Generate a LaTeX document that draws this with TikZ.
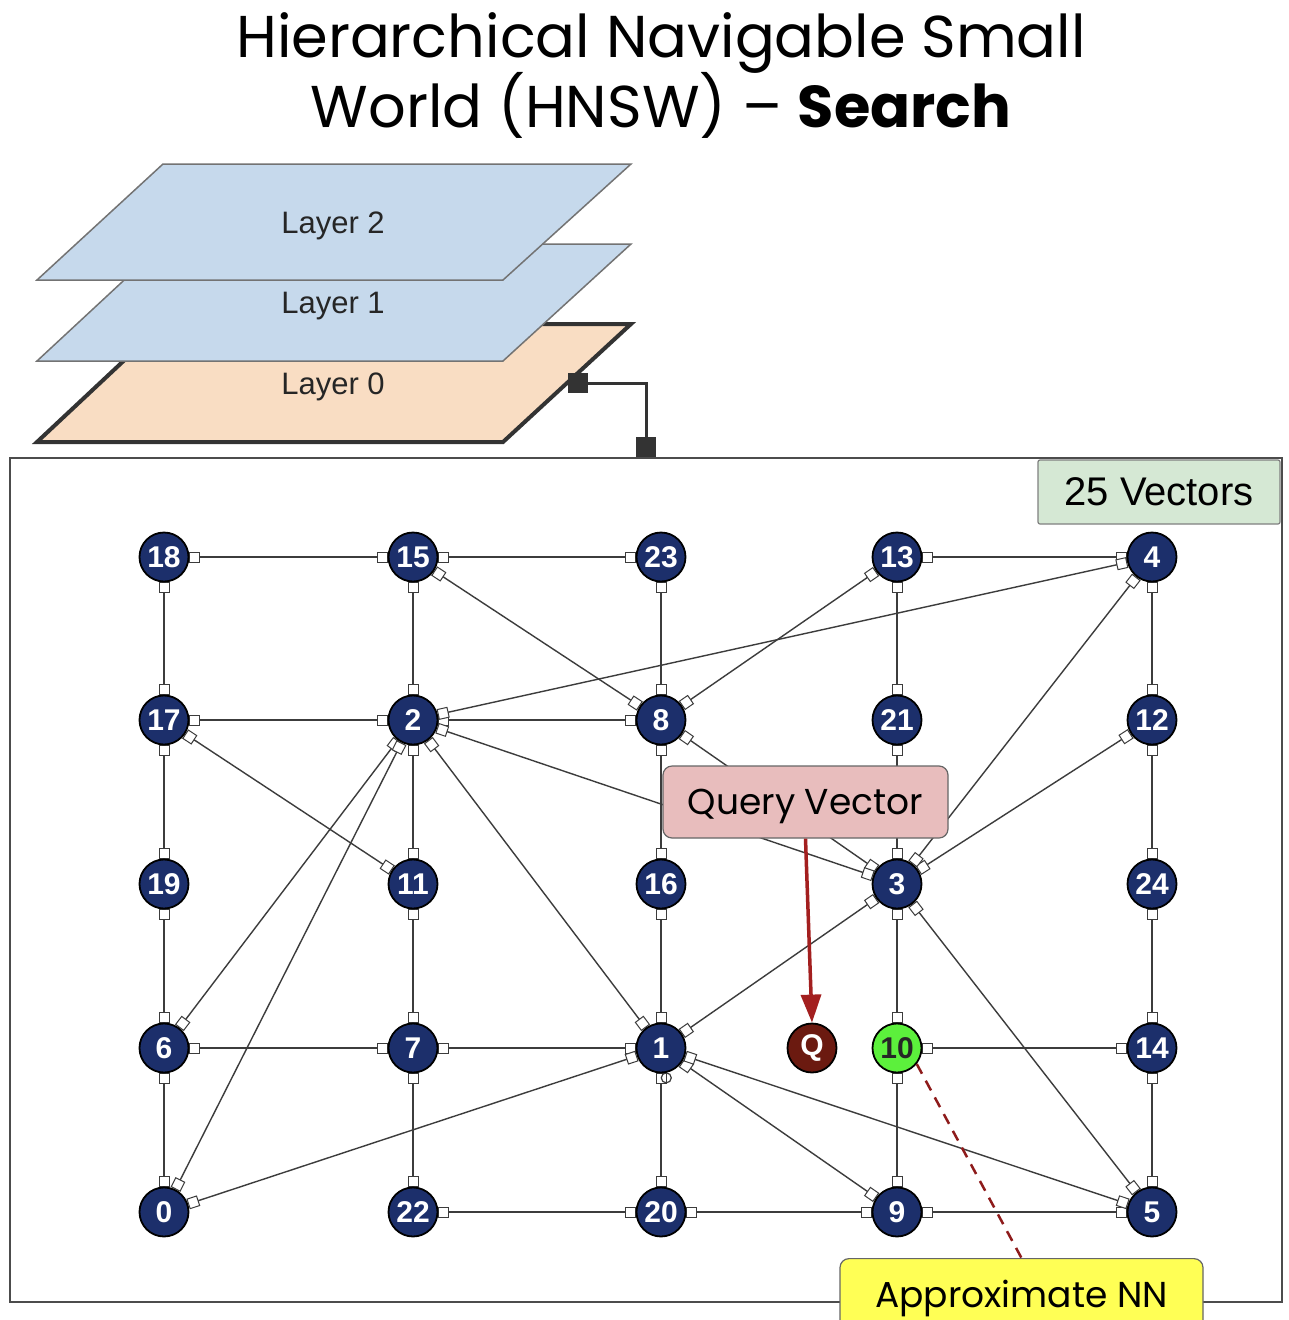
\documentclass[tikz,border=0pt]{standalone}
\usepackage{fontspec}
\setmainfont{Liberation Sans}
\newfontfamily\pop{Poppins}
\usetikzlibrary{arrows.meta}
\pgfdeclarelayer{bg}
\pgfdeclarelayer{edges}
\pgfsetlayers{bg,edges,main}
\definecolor{navy}{HTML}{1C2F6B}
\definecolor{layblue}{HTML}{C6D9EC}
\definecolor{laypeach}{HTML}{F9DDC3}
\definecolor{boxgreen}{HTML}{D5E8D4}
\definecolor{qpink}{HTML}{E8BDBD}
\definecolor{nnyellow}{HTML}{FFFF55}
\definecolor{qred}{HTML}{6B1A10}
\definecolor{nngreen}{HTML}{5CF03C}
\definecolor{arrred}{HTML}{A31F1F}
\definecolor{dashred}{HTML}{8E1B1B}
\definecolor{edgegray}{HTML}{3C3C3C}
\tikzset{
  sqm/.tip={Square[fill=white,length=11pt,width=11pt,line width=1pt]},
  vnode/.style={circle, draw=black, line width=1.8pt, fill=navy, minimum size=49pt,
    inner sep=0pt, text=white, font=\bfseries\fontsize{30}{30}\selectfont},
  gedge/.style={draw=edgegray, line width=1.4pt, arrows={sqm-sqm}},
  layerlbl/.style={font=\fontsize{31}{31}\selectfont, text=black!85},
  port/.style={fill=black!80, draw=none, minimum width=20pt, minimum height=20pt, inner sep=0pt},
}
\begin{document}
\begin{tikzpicture}[x=1pt,y=-1pt]
\useasboundingbox (0,0) rectangle (1288,1320);
\begin{pgfonlayer}{bg}
\fill[white] (0,0) rectangle (1288,1320);
\end{pgfonlayer}
% title
\node[anchor=base, font=\pop\fontsize{59}{59}\selectfont] (t1) at (661,57) {Hierarchical Navigable Small};
\node[anchor=base, font=\pop\fontsize{59}{59}\selectfont] (t2) at (661,127) {World (HNSW) – {\bfseries Search}};
% layers
\draw[fill=laypeach, draw=black!80, line width=4pt, line join=miter] (163,324) -- (631,324) -- (503,442) -- (37,442) -- cycle;
\draw[fill=layblue, draw=black!55, line width=1.5pt] (163,244) -- (631,244) -- (503,361) -- (37,361) -- cycle;
\draw[fill=layblue, draw=black!55, line width=1.5pt] (163,164) -- (631,164) -- (503,280) -- (37,280) -- cycle;
\node[layerlbl] (l2) at (333,226) {Layer 2};
\node[layerlbl] (l1) at (333,306) {Layer 1};
\node[layerlbl] (l0) at (333,387) {Layer 0};
% frame
\draw[draw=black!70, line width=2.5pt] (10,458) rectangle (1282,1302);
\node[port] (p1) at (578,383) {};
\node[port] (p2) at (646,447) {};
\draw[black!80, line width=3pt] (p1.center) -| (p2.center);
\node[draw=black!50, line width=1.2pt, fill=boxgreen, rounded corners=2pt, minimum width=242pt, minimum height=64pt,
  font=\fontsize{40}{40}\selectfont] (vec) at (1159,492) {25 Vectors};
% vector nodes
\node[vnode] (n18) at (164,557) {18};
\node[vnode] (n15) at (413,557) {15};
\node[vnode] (n23) at (661,557) {23};
\node[vnode] (n13) at (897,557) {13};
\node[vnode] (n4)  at (1152,557) {4};
\node[vnode] (n17) at (164,720) {17};
\node[vnode] (n2)  at (413,720) {2};
\node[vnode] (n8)  at (661,720) {8};
\node[vnode] (n21) at (897,720) {21};
\node[vnode] (n12) at (1152,720) {12};
\node[vnode] (n19) at (164,884) {19};
\node[vnode] (n11) at (413,884) {11};
\node[vnode] (n16) at (661,884) {16};
\node[vnode] (n3)  at (897,884) {3};
\node[vnode] (n24) at (1152,884) {24};
\node[vnode] (n6)  at (164,1048) {6};
\node[vnode] (n7)  at (413,1048) {7};
\node[vnode] (n1)  at (661,1048) {1};
\node[vnode, fill=qred] (q) at (812,1048) {Q};
\node[vnode, fill=nngreen, text=black!85] (n10) at (897,1048) {10};
\node[vnode] (n14) at (1152,1048) {14};
\node[vnode] (n0)  at (164,1212) {0};
\node[vnode] (n22) at (413,1212) {22};
\node[vnode] (n20) at (661,1212) {20};
\node[vnode] (n9)  at (897,1212) {9};
\node[vnode] (n5)  at (1152,1212) {5};
% edges
\begin{pgfonlayer}{edges}
\foreach \a/\b in {n18/n15, n15/n23, n13/n4, n17/n2, n2/n8, n6/n7, n7/n1, n10/n14, n22/n20, n20/n9, n9/n5,
  n18/n17, n17/n19, n19/n6, n6/n0, n15/n2, n2/n11, n11/n7, n7/n22, n23/n8, n8/n16, n16/n1, n1/n20,
  n13/n21, n21/n3, n3/n10, n10/n9, n4/n12, n12/n24, n24/n14, n14/n5,
  n15/n8, n8/n13, n2/n4, n8/n3, n2/n3, n12/n3, n4/n3, n17/n11, n2/n6, n2/n0, n2/n1, n3/n1, n3/n5,
  n1/n0, n1/n9, n1/n5}
  \draw[gedge] (\a) -- (\b);
\draw[edgegray, line width=1.2pt] ([yshift=-5pt]n1.-78) circle[radius=5pt];
\end{pgfonlayer}
% query vector
\node[draw=black!60, line width=1.2pt, fill=qpink, rounded corners=9pt, minimum width=285pt, minimum height=72pt] (qv) at (805.5,802) {};
\node[font=\pop\fontsize{36}{36}\selectfont] (qvtext) at (805.5,806) {Query Vector};
\draw[arrred, line width=3.5pt, -{Triangle[length=28pt,width=20pt]}] (qv.south) -- (q.north);
% approximate NN
\node[draw=black!60, line width=1.2pt, fill=nnyellow, rounded corners=9pt, minimum width=363pt, minimum height=100pt,
  anchor=north] (nn) at (1021.5,1258) {};
\node[font=\pop\fontsize{36}{36}\selectfont] (nntext) at (1021.5,1298) {Approximate NN};
\draw[dashred, line width=2.5pt, dash pattern=on 11pt off 8pt] (n10.-39) -- (nn.north);
\end{tikzpicture}
\end{document}
